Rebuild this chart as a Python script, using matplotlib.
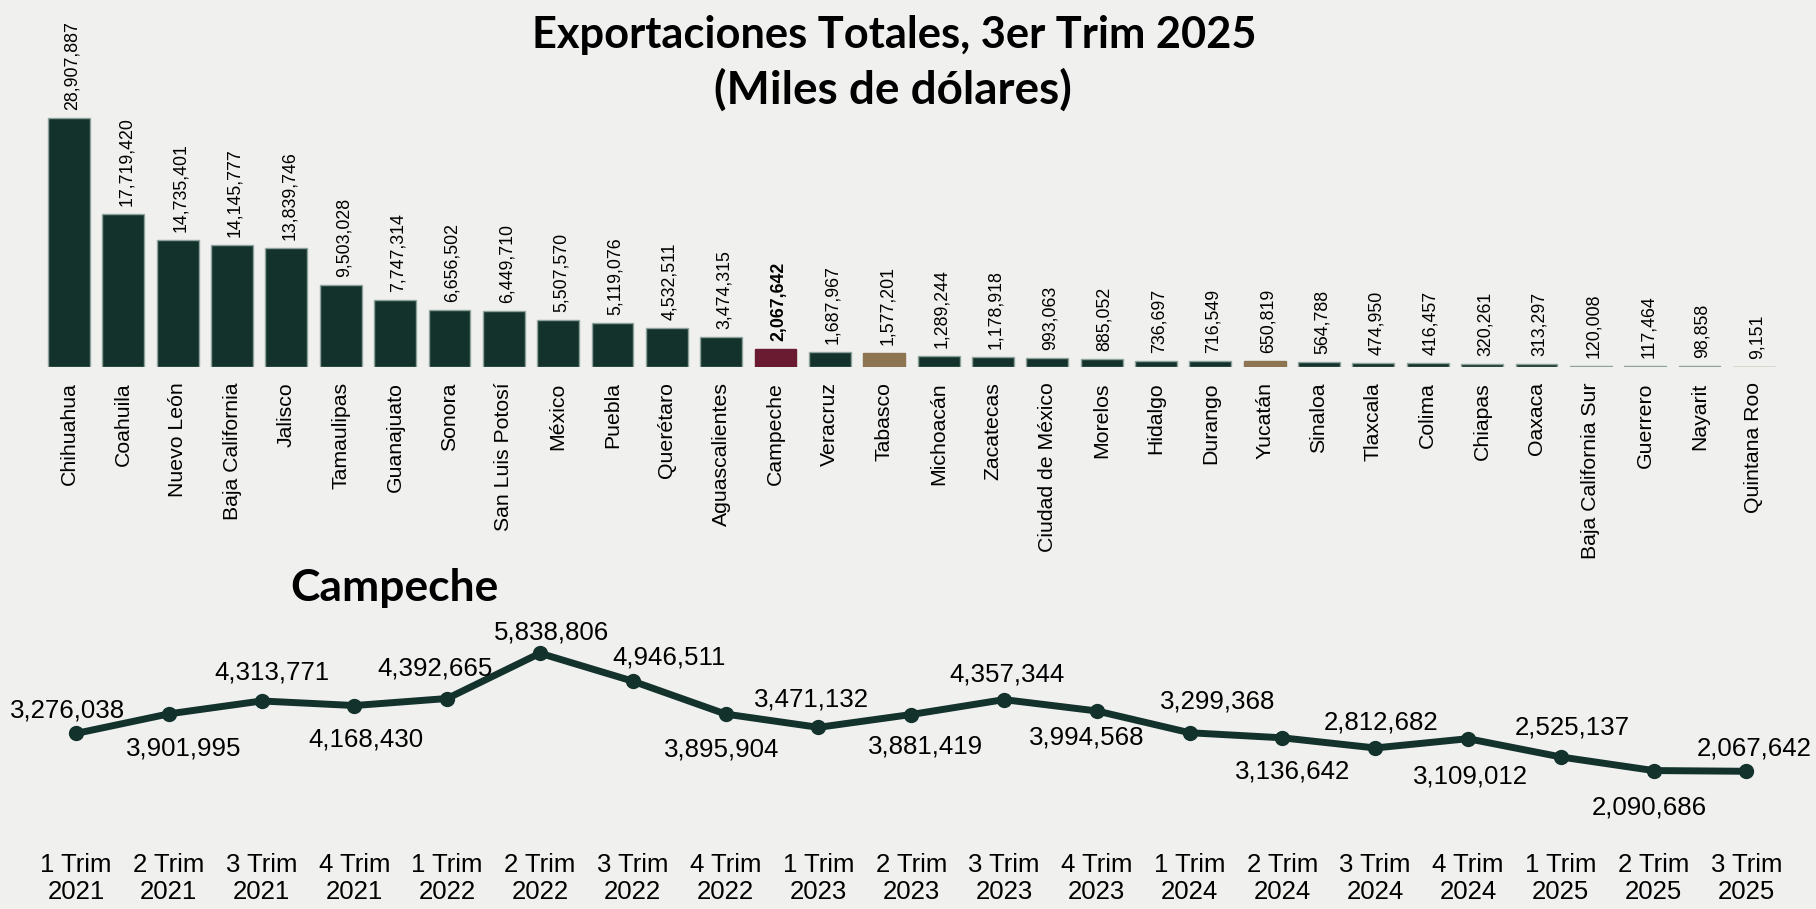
import matplotlib
matplotlib.use("Agg")
import matplotlib.pyplot as plt

# Top chart: exports by state, 3rd quarter 2025 (thousands of USD)
states = ["Chihuahua", "Coahuila", "Nuevo León", "Baja California", "Jalisco",
          "Tamaulipas", "Guanajuato", "Sonora", "San Luis Potosí", "México",
          "Puebla", "Querétaro", "Aguascalientes", "Campeche", "Veracruz",
          "Tabasco", "Michoacán", "Zacatecas", "Ciudad de México", "Morelos",
          "Hidalgo", "Durango", "Yucatán", "Sinaloa", "Tlaxcala", "Colima",
          "Chiapas", "Oaxaca", "Baja California Sur", "Guerrero", "Nayarit",
          "Quintana Roo"]
exports = [28907887, 17719420, 14735401, 14145777, 13839746, 9503028, 7747314,
           6656502, 6449710, 5507570, 5119076, 4532511, 3474315, 2067642,
           1687967, 1577201, 1289244, 1178918, 993063, 885052, 736697, 716549,
           650819, 564788, 474950, 416457, 320261, 313297, 120008, 117464,
           98858, 9151]

# Bottom chart: Campeche quarterly history
quarters = ["1 Trim\n2021", "2 Trim\n2021", "3 Trim\n2021", "4 Trim\n2021",
            "1 Trim\n2022", "2 Trim\n2022", "3 Trim\n2022", "4 Trim\n2022",
            "1 Trim\n2023", "2 Trim\n2023", "3 Trim\n2023", "4 Trim\n2023",
            "1 Trim\n2024", "2 Trim\n2024", "3 Trim\n2024", "4 Trim\n2024",
            "1 Trim\n2025", "2 Trim\n2025", "3 Trim\n2025"]
campeche = [3276038, 3901995, 4313771, 4168430, 4392665, 5838806, 4946511,
            3895904, 3471132, 3881419, 4357344, 3994568, 3299368, 3136642,
            2812682, 3109012, 2525137, 2090686, 2067642]

# label placement of the line values (pixels from the point)
label_offsets = [(-8, 23), (15, -35), (10, 28), (12, -34), (-12, 30), (12, 21),
                 (36, 24), (-4, -35), (-7, 28), (14, -32), (3, 25), (-10, -27),
                 (28, 31), (10, -34), (6, 25), (2, -38), (11, 29), (-4, -37),
                 (8, 23)]

GREEN = "#13322B"
MAROON = "#6A1B31"
GOLD = "#8C7550"
BG = "#F0F0EF"
highlight = {"Campeche": MAROON, "Tabasco": GOLD, "Yucatán": GOLD, "Quintana Roo": GOLD}

W, H = 1816, 909
fig = plt.figure(figsize=(W / 100, H / 100), dpi=100, facecolor=BG)
sans = ["Liberation Sans", "DejaVu Sans"]
heading = ["Lato", "DejaVu Sans"]


def fig_box(left, top, right, bottom):
    # pixel box (from top-left) -> figure fraction rect
    return [left / W, 1 - bottom / H, (right - left) / W, (bottom - top) / H]


# ---- bar chart ----
step = 54.35
ax1 = fig.add_axes(fig_box(69 - step / 2, 67, 69 + 31.5 * step, 367))
ax1.set_facecolor("none")
colors = [highlight.get(s, GREEN) for s in states]
edges = ["#8fa39d" if c == GREEN else c for c in colors]
xs = list(range(len(states)))
ax1.bar(xs, exports, width=0.77, color=colors, edgecolor=edges, linewidth=1.0)
ax1.set_xlim(-0.5, len(states) - 0.5)
ax1.set_ylim(0, max(exports) * 300 / 249)
for i, v in enumerate(exports):
    ax1.annotate(f"{v:,}", (i, v), xytext=(3, 8), textcoords="offset pixels",
                 rotation=90, ha="center", va="bottom", fontsize=12.8,
                 family=sans, color="black",
                 fontweight="bold" if states[i] == "Campeche" else "normal")
ax1.set_xticks(xs)
ax1.set_xticklabels(states, rotation=90, fontsize=15.3, family=sans, va="top")
ax1.tick_params(axis="x", length=0, pad=11)
ax1.set_yticks([])
for sp in ax1.spines.values():
    sp.set_visible(False)

# ---- line chart ----
lstep = 92.8
ax2 = fig.add_axes(fig_box(76 - lstep / 2, 600, 76 + 18.5 * lstep, 836))
ax2.set_facecolor("none")
px = list(range(len(quarters)))
ax2.plot(px, campeche, color=GREEN, linewidth=5, marker="o", markersize=10,
         solid_capstyle="round")
ax2.set_xlim(-0.5, len(quarters) - 0.5)
ax2.set_ylim(0, 236 / 31.3 * 1e6)
for i, v in enumerate(campeche):
    dx, dy = label_offsets[i]
    ax2.annotate(f"{v:,}", (i, v), xytext=(dx, dy), textcoords="offset pixels",
                 ha="center", va="center", fontsize=18.6, family=sans)
ax2.set_xticks(px)
ax2.set_xticklabels(quarters, fontsize=18.5, family=sans, linespacing=1.2)
ax2.tick_params(axis="x", length=0, pad=12)
ax2.set_yticks([])
for sp in ax2.spines.values():
    sp.set_visible(False)

# ---- titles ----
renderer = fig.canvas.get_renderer()


def fitted_text(x, y, s, width_px, size):
    t = fig.text(x / W, 1 - y / H, s, ha="center", va="center", fontsize=size,
                 fontweight="bold", family=heading)
    w = t.get_window_extent(renderer).width
    t.set_fontsize(size * width_px / w)
    return t


fitted_text(894, 35, "Exportaciones Totales, 3er Trim 2025", 723, 30)
fitted_text(893, 90, "(Miles de dólares)", 357, 30)
fitted_text(394, 588, "Campeche", 208, 30)

fig.savefig("out.png", dpi=100, facecolor=BG)
